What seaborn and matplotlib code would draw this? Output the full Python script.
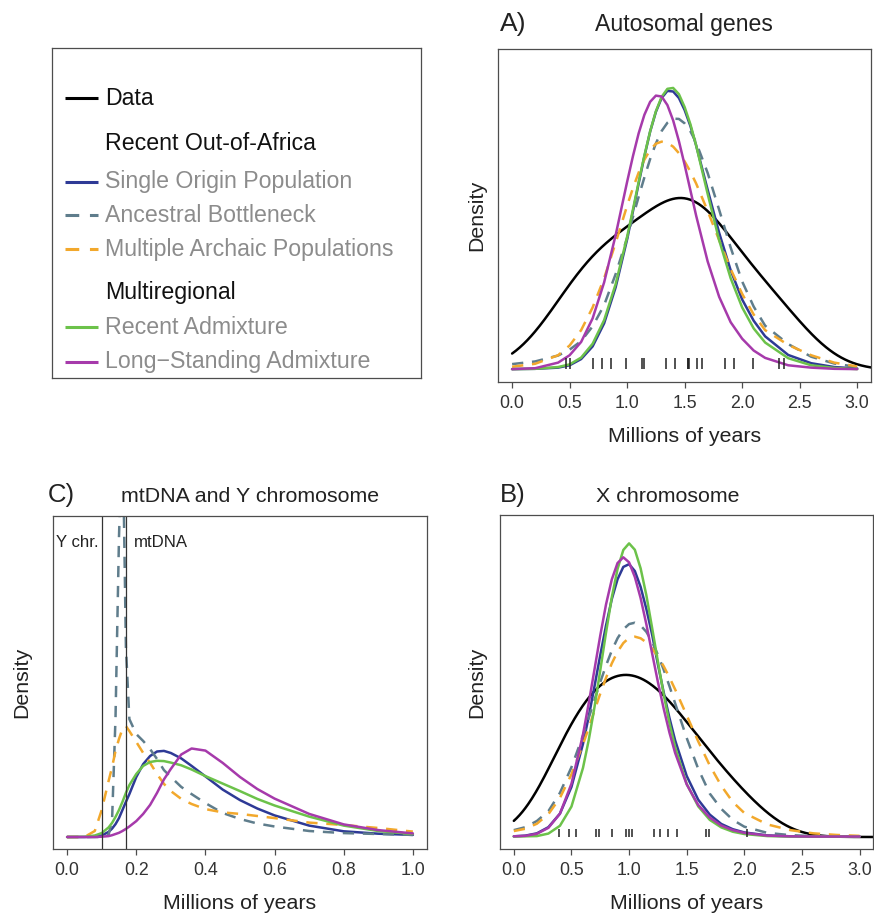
import matplotlib
matplotlib.use("Agg")
import matplotlib.pyplot as plt
import pandas as pd
import seaborn as sns

W, H = 874, 913

# observed coalescence times (rug ticks), millions of years
auto_times = [0.465, 0.499, 0.701, 0.782, 0.860, 0.992, 1.128, 1.146, 1.335, 1.412,
              1.526, 1.532, 1.539, 1.610, 1.655, 1.853, 1.932, 2.090, 2.323, 2.365]
xchr_times = [0.391, 0.482, 0.543, 0.714, 0.736, 0.851, 0.970, 1.001, 1.024, 1.215,
              1.272, 1.342, 1.419, 1.669, 1.693, 2.025]

# TMRCA of Y chromosome and mtDNA
y_chr_tmrca = 0.10
mtdna_tmrca = 0.17

# model densities
auto_grid = [0, 0.2, 0.4, 0.5, 0.6, 0.7, 0.8, 0.9, 1.0, 1.05, 1.1, 1.15, 1.2, 1.25, 1.3, 1.35, 1.4,
             1.45, 1.5, 1.55, 1.6, 1.7, 1.8, 1.9, 2.0, 2.1, 2.2, 2.4, 2.6, 2.8, 3.0]
auto_single = [0.003, 0.004, 0.008, 0.016, 0.037, 0.080, 0.158, 0.280, 0.443, 0.537, 0.632, 0.724, 0.808,
               0.875, 0.922, 0.946, 0.944, 0.922, 0.881, 0.827, 0.761, 0.611, 0.465, 0.338, 0.239, 0.167,
               0.114, 0.051, 0.023, 0.010, 0.005]
auto_bottleneck = [0.020, 0.029, 0.049, 0.069, 0.098, 0.148, 0.220, 0.325, 0.448, 0.518, 0.587, 0.653, 0.715,
                   0.768, 0.810, 0.838, 0.852, 0.851, 0.836, 0.809, 0.771, 0.668, 0.543, 0.415, 0.300, 0.215,
                   0.150, 0.088, 0.045, 0.022, 0.010]
auto_archaic = [0.011, 0.021, 0.050, 0.083, 0.135, 0.212, 0.311, 0.431, 0.557, 0.616, 0.669, 0.713, 0.746,
                0.767, 0.774, 0.770, 0.757, 0.735, 0.707, 0.672, 0.632, 0.539, 0.440, 0.342, 0.258, 0.188,
                0.135, 0.085, 0.050, 0.025, 0.012]
auto_recent = [0.003, 0.004, 0.010, 0.019, 0.042, 0.089, 0.169, 0.291, 0.452, 0.543, 0.637, 0.727, 0.809,
               0.877, 0.926, 0.953, 0.956, 0.935, 0.891, 0.833, 0.761, 0.597, 0.440, 0.311, 0.212, 0.141,
               0.093, 0.040, 0.016, 0.007, 0.003]
auto_longstanding = [0.003, 0.006, 0.025, 0.050, 0.095, 0.175, 0.297, 0.457, 0.638, 0.724, 0.802, 0.865, 0.909,
                     0.930, 0.927, 0.898, 0.846, 0.776, 0.695, 0.609, 0.523, 0.368, 0.248, 0.162, 0.106, 0.066,
                     0.041, 0.016, 0.008, 0.004, 0.003]

xchr_grid = [0, 0.1, 0.2, 0.3, 0.4, 0.5, 0.6, 0.65, 0.7, 0.75, 0.8, 0.85, 0.9, 0.95, 1.0, 1.05, 1.1,
             1.15, 1.2, 1.25, 1.3, 1.35, 1.4, 1.5, 1.6, 1.7, 1.8, 1.9, 2.0, 2.2, 2.4, 2.6, 2.8, 3.0]
xchr_single = [0.003, 0.006, 0.016, 0.043, 0.102, 0.219, 0.407, 0.527, 0.659, 0.795, 0.925, 1.040, 1.127,
               1.181, 1.193, 1.163, 1.094, 0.997, 0.885, 0.755, 0.633, 0.521, 0.422, 0.267, 0.163, 0.098,
               0.057, 0.034, 0.020, 0.007, 0.003, 0.002, 0.002, 0.002]
xchr_bottleneck = [0.030, 0.043, 0.070, 0.113, 0.193, 0.305, 0.444, 0.521, 0.600, 0.677, 0.750, 0.815, 0.869,
                   0.908, 0.931, 0.937, 0.925, 0.897, 0.853, 0.797, 0.732, 0.660, 0.584, 0.433, 0.298, 0.190,
                   0.123, 0.075, 0.045, 0.018, 0.008, 0.004, 0.003, 0.002]
xchr_archaic = [0.026, 0.036, 0.058, 0.100, 0.171, 0.274, 0.405, 0.477, 0.553, 0.627, 0.696, 0.759, 0.810,
                0.848, 0.871, 0.876, 0.869, 0.851, 0.824, 0.789, 0.747, 0.698, 0.645, 0.532, 0.418, 0.313,
                0.224, 0.153, 0.105, 0.055, 0.030, 0.016, 0.009, 0.005]
xchr_recent = [0.002, 0.003, 0.004, 0.015, 0.049, 0.133, 0.302, 0.424, 0.568, 0.729, 0.894, 1.048, 1.172,
               1.255, 1.284, 1.256, 1.175, 1.057, 0.914, 0.767, 0.625, 0.499, 0.392, 0.232, 0.134, 0.075,
               0.042, 0.023, 0.013, 0.004, 0.002, 0.002, 0.002, 0.002]
xchr_longstanding = [0.003, 0.005, 0.014, 0.040, 0.102, 0.233, 0.448, 0.585, 0.733, 0.881, 1.017, 1.126, 1.198,
                     1.223, 1.201, 1.137, 1.045, 0.930, 0.803, 0.678, 0.562, 0.457, 0.367, 0.230, 0.140, 0.085,
                     0.050, 0.030, 0.018, 0.006, 0.003, 0.002, 0.002, 0.002]

uni_grid = [0, 0.05, 0.08, 0.1, 0.12, 0.13, 0.14, 0.15, 0.16, 0.17, 0.18, 0.2, 0.22, 0.24,
            0.26, 0.28, 0.3, 0.33, 0.36, 0.4, 0.45, 0.5, 0.55, 0.6, 0.7, 0.8, 0.9, 1.0]
uni_single = [0, 0, 0.01, 0.05, 0.17, 0.28, 0.43, 0.63, 0.90, 1.17, 1.43, 2.00, 2.43, 2.70,
              2.85, 2.87, 2.80, 2.62, 2.37, 2.02, 1.58, 1.23, 0.95, 0.72, 0.38, 0.19, 0.11, 0.07]
uni_bottleneck = [0, 0, 0, 0, 0.07, 0.57, 4.0, 10.0, 14.0, 6.33, 3.93, 3.43, 3.20, 2.93,
                  2.60, 2.23, 2.00, 1.67, 1.43, 1.13, 0.80, 0.60, 0.45, 0.35, 0.20, 0.13, 0.10, 0.07]
uni_archaic = [0, 0, 0.20, 0.90, 1.87, 2.33, 2.87, 3.27, 3.60, 3.70, 3.53, 3.17, 2.80, 2.47,
               2.10, 1.77, 1.53, 1.27, 1.10, 0.93, 0.82, 0.77, 0.70, 0.63, 0.48, 0.40, 0.30, 0.18]
uni_recent = [0, 0.007, 0.05, 0.13, 0.32, 0.47, 0.67, 0.90, 1.17, 1.47, 1.73, 2.10, 2.37, 2.50,
              2.54, 2.53, 2.48, 2.39, 2.25, 2.03, 1.78, 1.53, 1.27, 1.05, 0.68, 0.38, 0.20, 0.10]
uni_longstanding = [0, 0, 0, 0.01, 0.03, 0.06, 0.10, 0.14, 0.20, 0.27, 0.35, 0.53, 0.77, 1.07,
                    1.47, 1.92, 2.27, 2.75, 2.95, 2.88, 2.47, 2.00, 1.60, 1.28, 0.77, 0.42, 0.23, 0.12]

MODELS = ["Single Origin Population", "Ancestral Bottleneck", "Multiple Archaic Populations",
          "Recent Admixture", "Long\u2212Standing Admixture"]
COLORS = dict(zip(MODELS, ["#2e3a96", "#5f7d8c", "#f2a82c", "#6cc24a", "#a63aab"]))
DASH = (4.5, 3.5)
DASHES = dict(zip(MODELS, ["", DASH, DASH, "", ""]))
GREY_TEXT = "#8c8c8c"
SPINE = "#4d4d4d"
LW = 1.8

sns.set_style("white")
plt.rcParams["font.family"] = ["Liberation Sans", "DejaVu Sans"]
plt.rcParams["lines.solid_capstyle"] = "round"


def model_frame(grid, curves):
    parts = [pd.DataFrame({"x": grid, "density": vals, "model": name})
             for name, vals in zip(MODELS, curves)]
    return pd.concat(parts, ignore_index=True)


def add_axes_px(fig, x0, y0, x1, y1):
    return fig.add_axes([x0 / W, 1 - y1 / H, (x1 - x0) / W, (y1 - y0) / H])


def fig_text(fig, x, y, s, **kw):
    fig.text(x / W, 1 - y / H, s, **kw)


def style_panel(ax, xticks, xlim, ylim, label_y):
    ax.set_xlim(xlim)
    ax.set_ylim(ylim)
    ax.set_xticks(xticks)
    ax.set_xticklabels([f"{t:.1f}" for t in xticks])
    ax.set_yticks([])
    ax.tick_params(axis="x", bottom=True, length=4.3, width=0.9, pad=5,
                   labelsize=12.8, color=SPINE, labelcolor="#333333")
    for sp in ax.spines.values():
        sp.set_visible(True)
        sp.set_color(SPINE)
        sp.set_linewidth(0.9)
    ax.set_xlabel("Millions of years", fontsize=15.4, color="#222222")
    ax.xaxis.label.set_va("center")
    ax.xaxis.set_label_coords(0.5, label_y)
    ax.set_ylabel("")


def draw_models(ax, grid, curves):
    df = model_frame(grid, curves)
    sns.lineplot(data=df, x="x", y="density", hue="model", style="model",
                 hue_order=MODELS, style_order=MODELS, palette=COLORS, dashes=DASHES,
                 linewidth=LW, estimator=None, sort=True, legend=False, ax=ax)


def draw_rug(ax, times, lo, hi):
    ax.vlines(times, lo, hi, color="#222222", linewidth=1.1)


fig = plt.figure(figsize=(W / 100, H / 100), dpi=100)

# ---- A) autosomal genes
ax_a = add_axes_px(fig, 498.3, 49.3, 871.0, 382.3)
sns.kdeplot(x=auto_times, bw_method=0.59, color="black", linewidth=LW, cut=10,
            clip=(0, 3.3), gridsize=400, ax=ax_a)
draw_models(ax_a, auto_grid, [auto_single, auto_bottleneck, auto_archaic, auto_recent, auto_longstanding])
draw_rug(ax_a, auto_times, 0.003, 0.041)
style_panel(ax_a, [0, 0.5, 1, 1.5, 2, 2.5, 3], (-0.12, 3.12), (-0.0417, 1.087), -54.4 / 333)

# ---- B) X chromosome
ax_b = add_axes_px(fig, 500.0, 515.0, 873.4, 849.3)
sns.kdeplot(x=xchr_times, bw_method=0.58, color="black", linewidth=LW, cut=10,
            clip=(0, 3.3), gridsize=400, ax=ax_b)
draw_models(ax_b, xchr_grid, [xchr_single, xchr_bottleneck, xchr_archaic, xchr_recent, xchr_longstanding])
draw_rug(ax_b, xchr_times, 0.0, 0.036)
style_panel(ax_b, [0, 0.5, 1, 1.5, 2, 2.5, 3], (-0.12, 3.12), (-0.0538, 1.408), -54.4 / 334.3)

# ---- C) mtDNA and Y chromosome
ax_c = add_axes_px(fig, 53.3, 515.7, 426.7, 849.3)
draw_models(ax_c, uni_grid, [uni_single, uni_bottleneck, uni_archaic, uni_recent, uni_longstanding])
ax_c.axvline(y_chr_tmrca, color="#333333", linewidth=0.9)
ax_c.axvline(mtdna_tmrca, color="#333333", linewidth=0.9)
style_panel(ax_c, [0, 0.2, 0.4, 0.6, 0.8, 1.0], (-0.04, 1.04), (-0.41, 10.71), -54.4 / 333.6)
ax_c.annotate("Y chr.", xy=(y_chr_tmrca, 1), xycoords=("data", "axes fraction"),
              xytext=(-2.5, -19), textcoords="offset points", ha="right", va="center",
              fontsize=12.1, color="#222222")
ax_c.annotate("mtDNA", xy=(mtdna_tmrca, 1), xycoords=("data", "axes fraction"),
              xytext=(6, -19), textcoords="offset points", ha="left", va="center",
              fontsize=12.1, color="#222222")

# panel titles and y labels
fig_text(fig, 500, 31, "A)", fontsize=19, ha="left", va="baseline", color="#222222")
fig_text(fig, 684, 31, "Autosomal genes", fontsize=16.6, ha="center", va="baseline", color="#222222")
fig_text(fig, 48, 502, "C)", fontsize=18.5, ha="left", va="baseline", color="#222222")
fig_text(fig, 250, 502, "mtDNA and Y chromosome", fontsize=15.4, ha="center", va="baseline", color="#222222")
fig_text(fig, 500, 502, "B)", fontsize=18.5, ha="left", va="baseline", color="#222222")
fig_text(fig, 668, 502, "X chromosome", fontsize=15.4, ha="center", va="baseline", color="#222222")
for x, y in [(477, 215), (477, 682), (22, 682)]:
    fig_text(fig, x, y, "Density", fontsize=15.4, rotation=90, ha="center", va="center", color="#222222")

# ---- legend panel
ax_l = add_axes_px(fig, 52.3, 48.3, 421.0, 378.0)
ax_l.set_xlim(52.3, 421.0)
ax_l.set_ylim(378.0, 48.3)
ax_l.set_xticks([])
ax_l.set_yticks([])
for sp in ax_l.spines.values():
    sp.set_visible(True)
    sp.set_color(SPINE)
    sp.set_linewidth(0.9)

legend_rows = [
    ("Data", "black", "", "#111111", 98.3),
    ("Recent Out-of-Africa", None, None, "#111111", 143.3),
    (MODELS[0], COLORS[MODELS[0]], "", GREY_TEXT, 181.7),
    (MODELS[1], COLORS[MODELS[1]], DASH, GREY_TEXT, 215.0),
    (MODELS[2], COLORS[MODELS[2]], DASH, GREY_TEXT, 249.0),
    ("Multiregional", None, None, "#111111", 292.3),
    (MODELS[3], COLORS[MODELS[3]], "", GREY_TEXT, 327.3),
    (MODELS[4], COLORS[MODELS[4]], "", GREY_TEXT, 361.7),
]
for label, color, dash, tcolor, y in legend_rows:
    if color is not None:
        line, = ax_l.plot([64.5, 97.5], [y, y], color=color, linewidth=2.2, solid_capstyle="butt")
        if dash:
            line.set_dashes(DASH)
    ax_l.text(105, y, label, fontsize=16.7, color=tcolor, ha="left", va="center")

fig.savefig("out.png", dpi=100)
